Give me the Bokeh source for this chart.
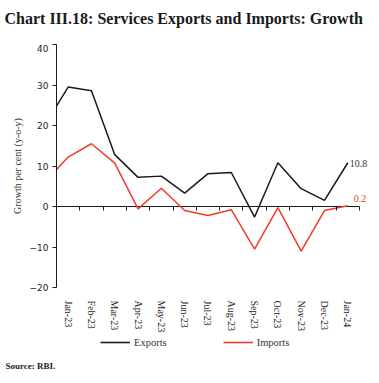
from bokeh.plotting import figure
from bokeh.layouts import column, row
from bokeh.models import (Range1d, FixedTicker, LinearAxis, Legend, LegendItem,
                          Label, Spacer)
from bokeh.embed import file_html
from bokeh.resources import INLINE
import numpy as np

# Data (first entry = Dec-22, partly outside the visible range)
months = ["Jan-23", "Feb-23", "Mar-23", "Apr-23", "May-23", "Jun-23", "Jul-23",
          "Aug-23", "Sep-23", "Oct-23", "Nov-23", "Dec-23", "Jan-24"]
exports = [20.1, 29.5, 28.6, 12.8, 7.2, 7.5, 3.3, 8.1, 8.4, -2.6, 10.8, 4.4, 1.5, 10.8]
imports = [6.0, 12.2, 15.5, 10.7, -0.6, 4.5, -1.0, -2.2, -0.8, -10.5, -0.3, -11.0, -1.0, 0.2]
y_ticks = [-20, -10, 0, 10, 20, 30, 40]
title_text = "Chart III.18: Services Exports and Imports: Growth"
source_text = "Source: RBI."

x = np.arange(len(exports)) - 1  # Dec-22 at -1, Jan-23 at 0
n = len(months)

SERIF = "Liberation Serif"
SANS = "DejaVu Sans"
BLACK = "#1a1a1a"
RED = "#f03c2a"

# ---- title strip
t = figure(width=363, height=44, output_backend="svg", toolbar_location=None,
           x_axis_location=None, y_axis_location=None,
           x_range=Range1d(0, 1), y_range=Range1d(0, 1), min_border=0)
t.grid.visible = False
t.outline_line_color = None
t.add_layout(Label(x=4, y=26, x_units="screen", y_units="screen", text=title_text,
                   text_font=SERIF, text_font_size="16px", text_font_style="bold",
                   text_color="#1a1a1a", text_baseline="middle", text_align="left"))

# ---- main chart
p = figure(width=355, height=286, frame_width=316, frame_height=243,
           output_backend="svg", toolbar_location=None,
           x_range=Range1d(-0.5, n - 0.5 + 0.56), y_range=Range1d(-20, 40),
           min_border=0)
p.outline_line_color = None
p.xgrid.visible = False
p.ygrid.visible = False

ya = p.yaxis[0]
ya.ticker = FixedTicker(ticks=y_ticks)
ya.minor_tick_line_color = None
ya.major_tick_in = 0
ya.major_tick_out = 4
ya.major_label_standoff = 4
ya.major_label_text_font = SANS
ya.major_label_text_font_size = "9px"
ya.major_label_text_color = "#222"
ya.axis_line_color = BLACK
ya.major_tick_line_color = BLACK
ya.axis_label = "Growth per cent (y-o-y)"
ya.axis_label_text_font = SERIF
ya.axis_label_text_font_style = "normal"
ya.axis_label_text_font_size = "10px"
ya.axis_label_text_color = "#333"
ya.axis_label_standoff = 4

xa = p.xaxis[0]
xa.ticker = FixedTicker(ticks=list(range(n)))
xa.major_label_overrides = {i: m for i, m in enumerate(months)}
xa.major_label_orientation = "vertical"
xa.major_label_text_font = SERIF
xa.major_label_text_font_size = "10px"
xa.major_label_text_color = "#222"
xa.axis_line_color = None
xa.major_tick_line_color = None
xa.minor_tick_line_color = None
xa.major_label_standoff = 7

# zero line with category-boundary ticks
p.segment(x0=[-0.5], y0=[0], x1=[n - 0.5], y1=[0], line_color=BLACK, line_width=1)
tick_axis = LinearAxis(fixed_location=0,
                       ticker=FixedTicker(ticks=[i + 0.5 for i in range(n)]),
                       major_label_text_color=None, major_label_standoff=0,
                       major_label_text_font_size="6px",
                       major_tick_in=0, major_tick_out=4, axis_line_color=None,
                       major_tick_line_color=BLACK, minor_tick_line_color=None)
p.add_layout(tick_axis, "below")

r_exp = p.line(x, exports, line_color=BLACK, line_width=1.5)
r_imp = p.line(x, imports, line_color=RED, line_width=1.5)

p.add_layout(Label(x=x[-1], y=exports[-1], text=f"{exports[-1]}", x_offset=2, y_offset=-1,
                   text_font=SERIF, text_font_size="10px", text_color="#333",
                   text_baseline="middle", text_align="left"))
p.add_layout(Label(x=x[-1], y=imports[-1], text=f"{imports[-1]}", x_offset=6, y_offset=7,
                   text_font=SERIF, text_font_size="10px", text_color=RED,
                   text_baseline="middle", text_align="left"))

# ---- legend + source strip
q = figure(width=363, height=42, output_backend="svg", toolbar_location=None,
           x_axis_location=None, y_axis_location=None,
           x_range=Range1d(0, 1), y_range=Range1d(0, 1), min_border=0)
q.grid.visible = False
q.outline_line_color = None
l_exp = q.line(x=[np.nan], y=[np.nan], line_color=BLACK, line_width=1.6)
l_imp = q.line(x=[np.nan], y=[np.nan], line_color=RED, line_width=1.6)
legend = Legend(items=[LegendItem(label="Exports", renderers=[l_exp]),
                       LegendItem(label="Imports", renderers=[l_imp])],
                orientation="horizontal", location=(100, 29),
                label_text_font=SERIF, label_text_font_size="10.5px", label_text_color="#333",
                glyph_width=30, glyph_height=12, label_height=12,
                label_standoff=4, spacing=56,
                border_line_color=None, background_fill_alpha=0,
                padding=0, margin=0)
q.add_layout(legend)
q.add_layout(Label(x=5, y=12, x_units="screen", y_units="screen", text=source_text,
                   text_font=SERIF, text_font_size="9px", text_font_style="bold",
                   text_color="#222", text_baseline="middle", text_align="left"))

layout = column(t, row(Spacer(width=8), p, spacing=0), q, spacing=0)
open("out.html", "w").write(file_html(layout, INLINE))
